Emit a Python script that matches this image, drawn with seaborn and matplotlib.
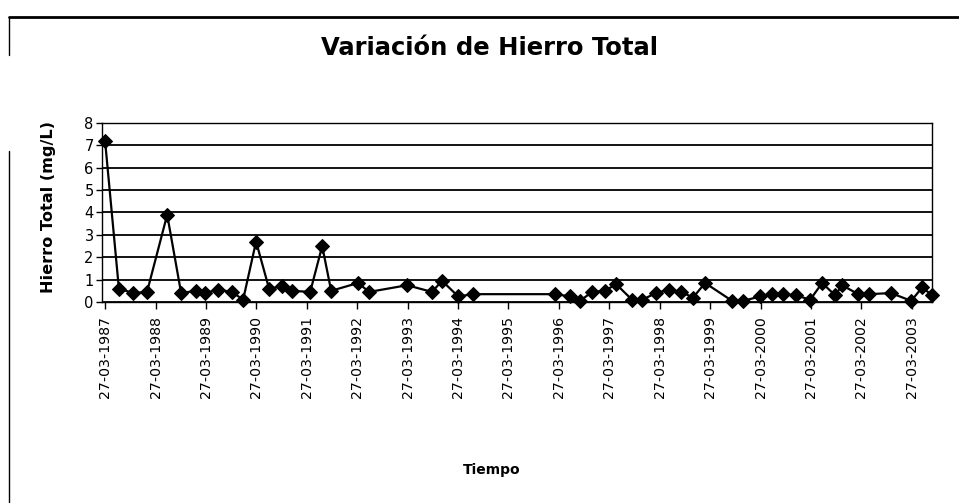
import matplotlib
matplotlib.use("Agg")
import matplotlib.pyplot as plt
from matplotlib.lines import Line2D
import seaborn as sns
import pandas as pd

# ---- data ----
fechas = [
    "1987-03-27", "1987-07-05", "1987-10-16", "1988-01-25", "1988-06-19",
    "1988-09-28", "1989-01-14", "1989-03-21", "1989-06-23", "1989-10-02",
    "1989-12-21", "1990-03-25", "1990-06-27", "1990-09-30", "1990-12-11",
    "1991-04-21", "1991-07-17", "1991-09-20", "1992-04-02", "1992-06-21",
    "1993-03-23", "1993-09-20", "1993-12-01", "1994-03-28", "1994-07-14",
    "1996-02-29", "1996-06-16", "1996-08-27", "1996-11-22", "1997-02-25",
    "1997-05-15", "1997-09-08", "1997-11-20", "1998-03-01", "1998-06-03",
    "1998-08-29", "1998-11-24", "1999-02-19", "1999-09-03", "1999-11-22",
    "2000-03-24", "2000-06-19", "2000-09-07", "2000-12-10", "2001-03-21",
    "2001-06-16", "2001-09-18", "2001-11-08", "2002-03-04", "2002-05-23",
    "2002-10-29", "2003-03-23", "2003-06-11", "2003-08-22",
]
hierro = [
    7.2, 0.6, 0.4, 0.45, 3.9,
    0.4, 0.5, 0.4, 0.55, 0.45,
    0.1, 2.7, 0.6, 0.7, 0.5,
    0.45, 2.5, 0.5, 0.85, 0.45,
    0.75, 0.45, 0.95, 0.25, 0.35,
    0.35, 0.25, 0.05, 0.45, 0.5,
    0.8, 0.1, 0.1, 0.4, 0.55,
    0.45, 0.2, 0.85, 0.05, 0.05,
    0.25, 0.35, 0.35, 0.3, 0.1,
    0.85, 0.3, 0.75, 0.35, 0.35,
    0.4, 0.05, 0.65, 0.3,
]
tick_years = list(range(1987, 2004))
titulo = "Variación de Hierro Total"
etiqueta_y = "Hierro Total (mg/L)"
etiqueta_x = "Tiempo"

df = pd.DataFrame({"fecha": pd.to_datetime(fechas), "hierro": hierro})

sns.set_theme(style="white")
plt.rcParams["font.family"] = ["DejaVu Sans"]
plt.rcParams["text.color"] = "black"
plt.rcParams["axes.labelcolor"] = "black"
plt.rcParams["xtick.color"] = "black"
plt.rcParams["ytick.color"] = "black"

fig = plt.figure(figsize=(9.59, 5.03), dpi=100)
ax = fig.add_axes([0.1064, 0.3996, 0.8656, 0.3559])

sns.lineplot(data=df, x="fecha", y="hierro", ax=ax, color="black",
             marker="D", markersize=7.5, markeredgecolor="black",
             markerfacecolor="black", linewidth=1.6, clip_on=False, zorder=5)

ticks = pd.to_datetime([f"{y}-03-27" for y in tick_years])
ax.set_xticks(ticks)
ax.set_xticklabels([t.strftime("%d-%m-%Y") for t in ticks], rotation=90,
                   fontsize=10.2)
ax.set_xlim(pd.Timestamp("1987-03-05"), pd.Timestamp("2003-08-22"))

ax.set_ylim(0, 8)
ax.set_yticks(range(0, 9))
ax.tick_params(axis="y", labelsize=10.5, length=4, width=1, color="black",
               labelcolor="black", direction="out", left=True, pad=2)
ax.tick_params(axis="x", length=5, width=1, color="black", labelcolor="black",
               direction="out", bottom=True, pad=5)

ax.grid(axis="y", color="black", linewidth=1.3)
ax.grid(axis="x", visible=False)
for s in ax.spines.values():
    s.set_color("black")
    s.set_linewidth(1.0)

ax.set_xlabel(etiqueta_x, fontsize=10, fontweight="bold", color="black")
ax.set_ylabel(etiqueta_y, fontsize=11.6, fontweight="bold", color="black")
ax.xaxis.set_label_coords(0.469, -0.90)
ax.yaxis.set_label_coords(-0.055, 0.53)

fig.text(0.510, 0.905, titulo, ha="center", va="center", fontsize=17.5,
         fontweight="bold", color="black")

# chart area border fragments
fig.add_artist(Line2D([0.009, 1.0], [0.966, 0.966], color="black", lw=2.0,
                      transform=fig.transFigure))
fig.add_artist(Line2D([0.009, 0.009], [0.966, 0.89], color="black", lw=1.0,
                      transform=fig.transFigure))
fig.add_artist(Line2D([0.009, 0.009], [0.70, 0.0], color="black", lw=1.0,
                      transform=fig.transFigure))

fig.savefig("out.png", dpi=100)
